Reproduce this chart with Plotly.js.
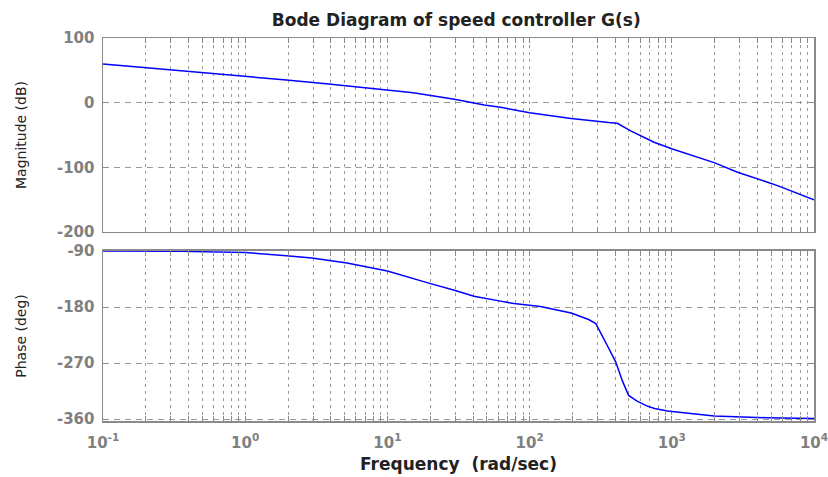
<!DOCTYPE html>
<html>
<head>
<meta charset="utf-8">
<script src="https://cdn.plot.ly/plotly-3.0.1.min.js"></script>
<style>html,body{margin:0;padding:0;background:#fff;}#chart{width:828px;height:477px;}</style>
</head>
<body>
<div id="chart"></div>
<script>
// Magnitude curve
const magFreq = [0.1, 0.28, 1, 1.95, 3.86, 10, 15.2, 29.6, 48, 62.5, 100, 196, 300, 360, 414, 514, 750, 1010, 1985, 2900, 5540, 10000];
const magDb   = [59.8, 51.6, 41.3, 35.1, 28.9, 19.6, 15.3, 5.3, -3.6, -7.1, -15.5, -24.5, -29.5, -30.8, -31.9, -43.7, -61.2, -71.6, -92.7, -107.5, -128.3, -150.4];

// Phase curve
const phaseFreq = [0.1, 0.35, 1, 1.31, 1.95, 2.94, 5.2, 10, 15.2, 20.1, 29.6, 40.6, 62.5, 77.6, 119, 196, 260, 292, 354, 403, 450, 497, 570, 673, 757, 933, 1985, 4700, 10000];
const phaseDeg  = [-90, -90.6, -92.5, -94.3, -97.5, -101.2, -109.2, -122, -134.9, -142.4, -153, -162.8, -170.5, -174.5, -179, -189.5, -200, -206.6, -243, -268, -299, -322, -331, -339.2, -343, -347, -355, -357.8, -359];

// Tick labels
const decades = [0.1, 1, 10, 100, 1000, 10000];
const decadeLabels = ["10<sup>-1</sup>", "10<sup>0</sup>", "10<sup>1</sup>", "10<sup>2</sup>", "10<sup>3</sup>", "10<sup>4</sup>"];
const magTicks = [100, 0, -100, -200];
const magTickText = ["100", "0", "-100", "-200"];
const phaseTicks = [-90, -180, -270, -360];
const phaseTickText = ["-90", "-180", "-270", "-360"];

const titleText = "Bode Diagram of speed controller G(s)";
const magLabel = "Magnitude (dB)";
const phaseLabel = "Phase (deg)";
const freqLabel = "Frequency  (rad/sec)";

// log grid positions 1..9 x each decade
const xTickVals = [], xTickText = [];
decades.forEach((d, i) => {
  const mults = (i === decades.length - 1) ? [1] : [1,2,3,4,5,6,7,8,9];
  mults.forEach(m => {
    xTickVals.push(d * m);
    xTickText.push(m === 1 ? decadeLabels[i] : "");
  });
});

const FONT = "DejaVu Sans, Liberation Sans, Arial, sans-serif";
const frame = {showline: true, linecolor: "#8a8a8a", linewidth: 1.5, mirror: "ticks",
  ticks: "inside", ticklen: 5, tickcolor: "#8a8a8a", zeroline: false,
  showgrid: true, gridcolor: "#9a9a9a", gridwidth: 1};

const tickFont = {family: FONT, size: 15, color: "#808080", weight: "bold"};
const xBase = Object.assign({}, frame, {type: "log", range: [-1, 4], tickmode: "array",
  tickvals: xTickVals, ticktext: xTickText, griddash: "3px,4px", tickfont: tickFont,
  ticklabeloverflow: "allow"});

const traces = [
  {x: magFreq, y: magDb, xaxis: "x", yaxis: "y", mode: "lines",
   line: {color: "#0000ff", width: 1.5}, hoverinfo: "skip"},
  {x: phaseFreq, y: phaseDeg, xaxis: "x2", yaxis: "y2", mode: "lines",
   line: {color: "#0000ff", width: 1.5}, hoverinfo: "skip"}
];

const layout = {
  width: 828, height: 477,
  margin: {l: 103, r: 14, t: 38, b: 56},
  paper_bgcolor: "#fff", plot_bgcolor: "#fff",
  showlegend: false,
  font: {family: FONT},
  title: {text: titleText, font: {family: FONT, size: 17, color: "#222", weight: "bold"},
          x: 0.551, xanchor: "center", y: 0.958, yanchor: "middle"},
  xaxis: Object.assign({}, xBase, {anchor: "y", showticklabels: false, matches: "x2"}),
  xaxis2: Object.assign({}, xBase, {anchor: "y2", ticklabelstandoff: 7,
    title: {text: freqLabel, font: {family: FONT, size: 17, color: "#222", weight: "bold"}, standoff: 7}}),
  yaxis: Object.assign({}, frame, {domain: [0.4935, 1], range: [-200, 100], tickmode: "array",
    tickvals: magTicks, ticktext: magTickText, griddash: "6px,5px", tickfont: tickFont, ticklabelstandoff: 4,
    title: {text: magLabel, font: {family: FONT, size: 14, color: "#222"}, standoff: 27}}),
  yaxis2: Object.assign({}, frame, {domain: [0, 0.4439], range: [-363, -90], tickmode: "array",
    tickvals: phaseTicks, ticktext: phaseTickText, griddash: "6px,5px", tickfont: tickFont, ticklabelstandoff: 4,
    title: {text: phaseLabel, font: {family: FONT, size: 14, color: "#222"}, standoff: 27}})
};

Plotly.newPlot("chart", traces, layout, {staticPlot: true, displayModeBar: false});
</script>
</body>
</html>
